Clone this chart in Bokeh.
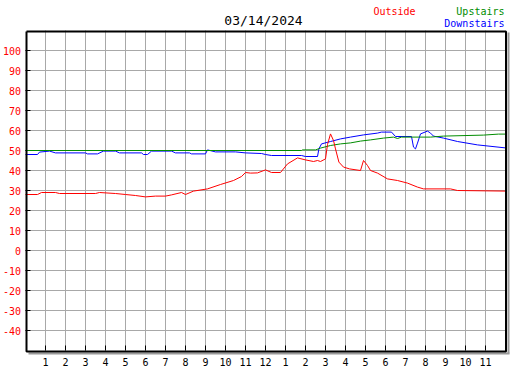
from bokeh.plotting import figure
from bokeh.models import Range1d
from bokeh.core.properties import value
from bokeh.embed import file_html
from bokeh.resources import INLINE

title_text = "03/14/2024"
series_names = ["Outside", "Upstairs", "Downstairs"]

y_ticks = [-40, -30, -20, -10, 0, 10, 20, 30, 40, 50, 60, 70, 80, 90, 100]
y_tick_labels = [str(v) for v in y_ticks]
x_ticks = list(range(1, 24))
x_tick_labels = ["1", "2", "3", "4", "5", "6", "7", "8", "9", "10", "11", "12",
                 "1", "2", "3", "4", "5", "6", "7", "8", "9", "10", "11"]

outside_hours = [0, 0.6, 0.8, 1.5, 1.7, 3.5, 3.7, 4.5, 5.0, 5.5, 6.0, 6.5, 7.0, 7.3,
                 7.8, 8.0, 8.4, 9.1, 9.75, 10.4, 10.8, 11.0, 11.25, 11.6, 12.0, 12.3,
                 12.75, 13.1, 13.6, 14.0, 14.4, 14.6, 14.75, 15.0, 15.1, 15.25, 15.4,
                 15.5, 15.67, 15.9, 16.2, 16.75, 16.9, 17.1, 17.25, 17.6, 18.1, 18.6,
                 19.1, 19.6, 19.9, 21.25, 21.6, 24.0]
outside_temp = [28, 28, 29, 29, 28.5, 28.5, 29, 28.5, 28, 27.5, 26.8, 27.2, 27.2, 27.8,
                29, 28, 29.7, 30.8, 33, 35, 37, 39, 38.7, 38.8, 40.3, 39,
                39, 43.3, 46.3, 45.3, 44.5, 45, 44.5, 45.8, 53, 58.3, 55,
                50.8, 44.2, 41.7, 40.8, 40, 45, 42.5, 40, 38.7, 35.8, 35,
                33.7, 31.7, 30.8, 30.8, 30, 29.7]

upstairs_hours = [0, 13.8, 13.85, 14.5, 14.75, 15.25, 15.75, 16.25, 16.75, 17.25, 17.9,
                  18.4, 18.6, 18.8, 20.25, 20.9, 22.9, 23.65, 24.0]
upstairs_temp = [50, 50, 50.3, 50.3, 51.2, 52.5, 53.3, 53.8, 54.7, 55.3, 56.2,
                 56.7, 56, 56.7, 56.7, 57.2, 57.7, 58.2, 58.2]

downstairs_hours = [0, 0.6, 0.7, 1.2, 1.5, 3.0, 3.1, 3.6, 3.9, 4.5, 4.7, 5.8, 5.9, 6.1,
                    6.3, 7.3, 7.5, 8.2, 8.3, 9.0, 9.1, 9.5, 10.5, 11.0, 11.8, 12.0, 12.3,
                    13.8, 14.0, 14.6, 14.67, 14.8, 15.25, 15.75, 16.25, 16.9, 17.6, 17.8,
                    18.3, 18.5, 19.3, 19.4, 19.5, 19.6, 19.75, 20.1, 20.25, 20.4, 20.9,
                    21.6, 22.6, 24.0]
downstairs_temp = [48, 48, 49.2, 49.7, 48.8, 48.8, 48.3, 48.3, 49.7, 49.7, 48.8, 48.8, 48, 48,
                   49.7, 49.7, 48.8, 48.8, 48.3, 48.3, 50.3, 49.3, 49.3, 48.8, 48.5, 48, 47.5,
                   47.5, 47, 47, 50.8, 53.3, 54.5, 55.8, 56.7, 57.8, 58.7, 59.2,
                   59.2, 57, 57, 51.7, 50.8, 53.7, 58.3, 59.7, 58.7, 57.2, 56.2,
                   54.5, 52.8, 51.3]

RED = "#ff0000"
GREEN = "#008c00"
BLUE = "#0000ff"
GRID = "#a8a8a8"
FONT = value("DejaVu Sans Mono")

W, H = 527, 370
X0 = -1.25      # hour at the left edge of the canvas (20 px per hour)
YTOP = 125.0    # degrees at the top edge of the canvas (2 px per degree)

p = figure(frame_width=W, frame_height=H,
           x_range=Range1d(X0, X0 + W / 20), y_range=Range1d(YTOP - H / 2, YTOP),
           x_axis_type=None, y_axis_type=None,
           min_border=0, min_border_left=0, min_border_right=0,
           min_border_top=0, min_border_bottom=0,
           output_backend="svg", toolbar_location=None)
p.title.visible = False
p.outline_line_color = None
p.background_fill_color = "white"
p.border_fill_color = "white"

n_y = len(y_ticks)
n_x = len(x_ticks)

# grid
p.segment(x0=[0] * n_y, y0=y_ticks, x1=[24] * n_y, y1=y_ticks, line_color=GRID, line_width=1)
p.segment(x0=x_ticks, y0=[-50] * n_x, x1=x_ticks, y1=[110] * n_x, line_color=GRID, line_width=1)

# tick marks inside the frame
p.segment(x0=[0] * n_y, y0=y_ticks, x1=[0.25] * n_y, y1=y_ticks, line_color="black", line_width=1)
p.segment(x0=x_ticks, y0=[-50] * n_x, x1=x_ticks, y1=[-47.5] * n_x, line_color="black", line_width=1)

# data lines
p.line(downstairs_hours, downstairs_temp, line_color=BLUE, line_width=1)
p.line(upstairs_hours, upstairs_temp, line_color=GREEN, line_width=1)
p.line(outside_hours, outside_temp, line_color=RED, line_width=1)

# shadow and border
p.line([24.15, 24.15], [109, -51.5], line_color="#999999", line_width=2)
p.line([0.15, 24.2], [-51.5, -51.5], line_color="#999999", line_width=2)
p.line([0.05, 0.05, 24.025, 24.025, 0.05], [109.5, -50.5, -50.5, 109.5, 109.5],
       line_color="black", line_width=2)

# tick labels
p.text(x=[-0.225] * n_y, y=y_ticks, text=y_tick_labels, text_font=FONT,
       text_font_size=value("10px"), text_color=RED, text_align="right",
       text_baseline="middle")
p.text(x=x_ticks, y=[-55.75] * n_x, text=x_tick_labels, text_font=FONT,
       text_font_size=value("10px"), text_color="black", text_align="center",
       text_baseline="middle")

# title and legend
p.text(x=[11.9], y=[115.25], text=[title_text], text_font=FONT, text_font_size=value("13px"),
       text_color="black", text_align="center", text_baseline="middle")
p.text(x=[17.4], y=[119.5], text=[series_names[0]], text_font=FONT, text_font_size=value("10px"),
       text_color=RED, text_align="left", text_baseline="middle")
p.text(x=[23.95], y=[119.5], text=[series_names[1]], text_font=FONT, text_font_size=value("10px"),
       text_color=GREEN, text_align="right", text_baseline="middle")
p.text(x=[23.95], y=[113.5], text=[series_names[2]], text_font=FONT, text_font_size=value("10px"),
       text_color=BLUE, text_align="right", text_baseline="middle")

open("out.html", "w").write(file_html(p, INLINE))
